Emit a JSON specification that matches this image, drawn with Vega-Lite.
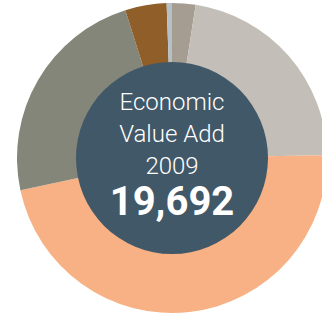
{
  "$schema": "https://vega.github.io/schema/vega-lite/v6.json",
  "width": 344,
  "height": 316,
  "padding": 0,
  "autosize": {"type": "none"},
  "background": "white",
  "view": {"stroke": null},
  "datasets": {
    "segments": [
      {"segment": "A", "value": 481, "order": 1},
      {"segment": "B", "value": 4387, "order": 2},
      {"segment": "C", "value": 9244, "order": 3},
      {"segment": "D", "value": 4622, "order": 4},
      {"segment": "E", "value": 849, "order": 5},
      {"segment": "F", "value": 109, "order": 6}
    ],
    "center": [
      {"label": "Economic\nValue Add\n2009", "total": 19692}
    ]
  },
  "layer": [
    {
      "data": {"name": "segments"},
      "mark": {"type": "arc", "outerRadius": 155, "innerRadius": 95},
      "encoding": {
        "theta": {"field": "value", "type": "quantitative", "stack": true},
        "order": {"field": "order", "type": "quantitative"},
        "color": {
          "field": "segment",
          "type": "nominal",
          "legend": null,
          "scale": {
            "domain": ["A", "B", "C", "D", "E", "F"],
            "range": ["#a59d91", "#c3bfb8", "#f7b184", "#85867a", "#8f5e29", "#b5bfc7"]
          }
        }
      }
    },
    {
      "data": {"name": "center"},
      "mark": {"type": "arc", "outerRadius": 96, "innerRadius": 0, "color": "#415868"},
      "encoding": {"theta": {"value": 6.2832}}
    },
    {
      "data": {"name": "center"},
      "mark": {
        "type": "text",
        "font": "Roboto",
        "fontWeight": 300,
        "fontSize": 24,
        "color": "white",
        "align": "center",
        "baseline": "middle",
        "lineBreak": "\n",
        "lineHeight": 32,
        "dy": -55
      },
      "encoding": {"text": {"field": "label", "type": "nominal"}}
    },
    {
      "data": {"name": "center"},
      "mark": {
        "type": "text",
        "font": "Roboto",
        "fontWeight": 700,
        "fontSize": 40,
        "color": "white",
        "align": "center",
        "baseline": "middle",
        "dy": 45
      },
      "encoding": {"text": {"field": "total", "type": "quantitative", "format": ","}}
    }
  ]
}
